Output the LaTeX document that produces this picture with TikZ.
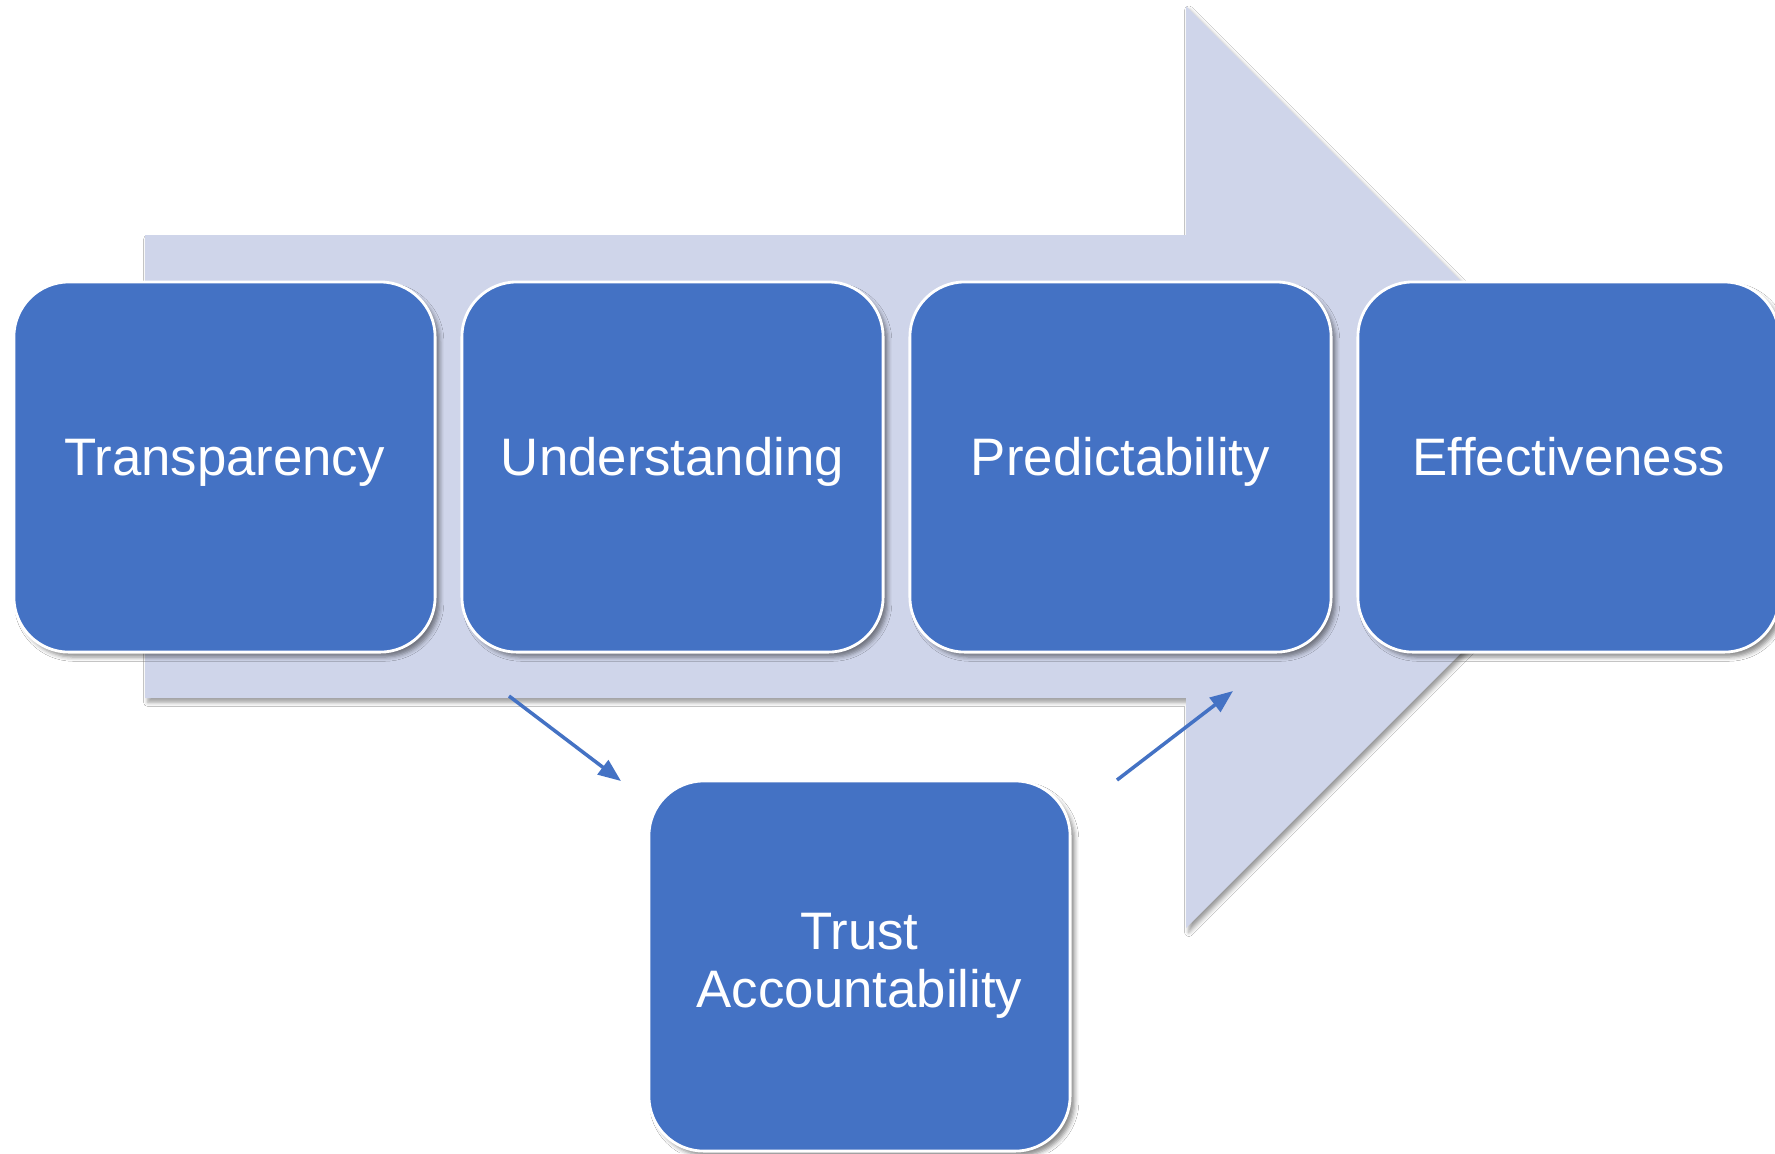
\documentclass[tikz,border=0pt]{standalone}
\usepackage{fontspec}
\setmainfont[Ligatures=NoCommon]{Liberation Sans}
\usetikzlibrary{arrows.meta,shadows.blur}
\definecolor{boxblue}{HTML}{4472C4}
\definecolor{arrowfill}{HTML}{CFD5EA}
\begin{document}
\begin{tikzpicture}[x=0.01cm,y=-0.01cm,
  stagebox/.style={draw=white, line width=0.8pt, fill=boxblue,
    rounded corners=0.55cm, minimum width=4.21cm, minimum height=3.70cm,
    text=white, font=\fontsize{15}{16.5}\selectfont, align=center, inner sep=0pt,
    blur shadow={shadow xshift=1.3pt, shadow yshift=-1.4pt, shadow blur radius=1.2pt, shadow opacity=45}},
  onestage/.style={stagebox, text height=9.5pt, text depth=4.4pt},
  bigarrow/.style={fill=arrowfill,
    blur shadow={shadow xshift=0.8pt, shadow yshift=-1.2pt, shadow blur radius=1.2pt, shadow opacity=40}},
  flow/.style={draw=boxblue, line width=1pt, -{Triangle[length=6.5pt,width=5pt]}}
]
\useasboundingbox (0,0) rectangle (1775,1153);
\fill[white] (0,0) rectangle (1775,1153);

\path[bigarrow] (145,235) -- (1186,235) -- (1186,6) -- (1647,467) -- (1186,928) -- (1186,698) -- (145,698) -- cycle;

\node[onestage] (t1) at (224.5,467) {Transparency};
\node[onestage] (t2) at (672.5,467) {Understanding};
\node[onestage] (t3) at (1120.5,467) {Predictability};
\node[onestage] (t4) at (1568.5,467) {Effectiveness};
\node[stagebox] (tr) at (859.5,966) {Trust\\Accountability};

\coordinate (a1s) at (509,696);
\coordinate (a1e) at (621,781);
\coordinate (a2s) at (1117,780);
\coordinate (a2e) at (1233,691);
\draw[flow] (a1s) -- (a1e);
\draw[flow] (a2s) -- (a2e);
\end{tikzpicture}
\end{document}
